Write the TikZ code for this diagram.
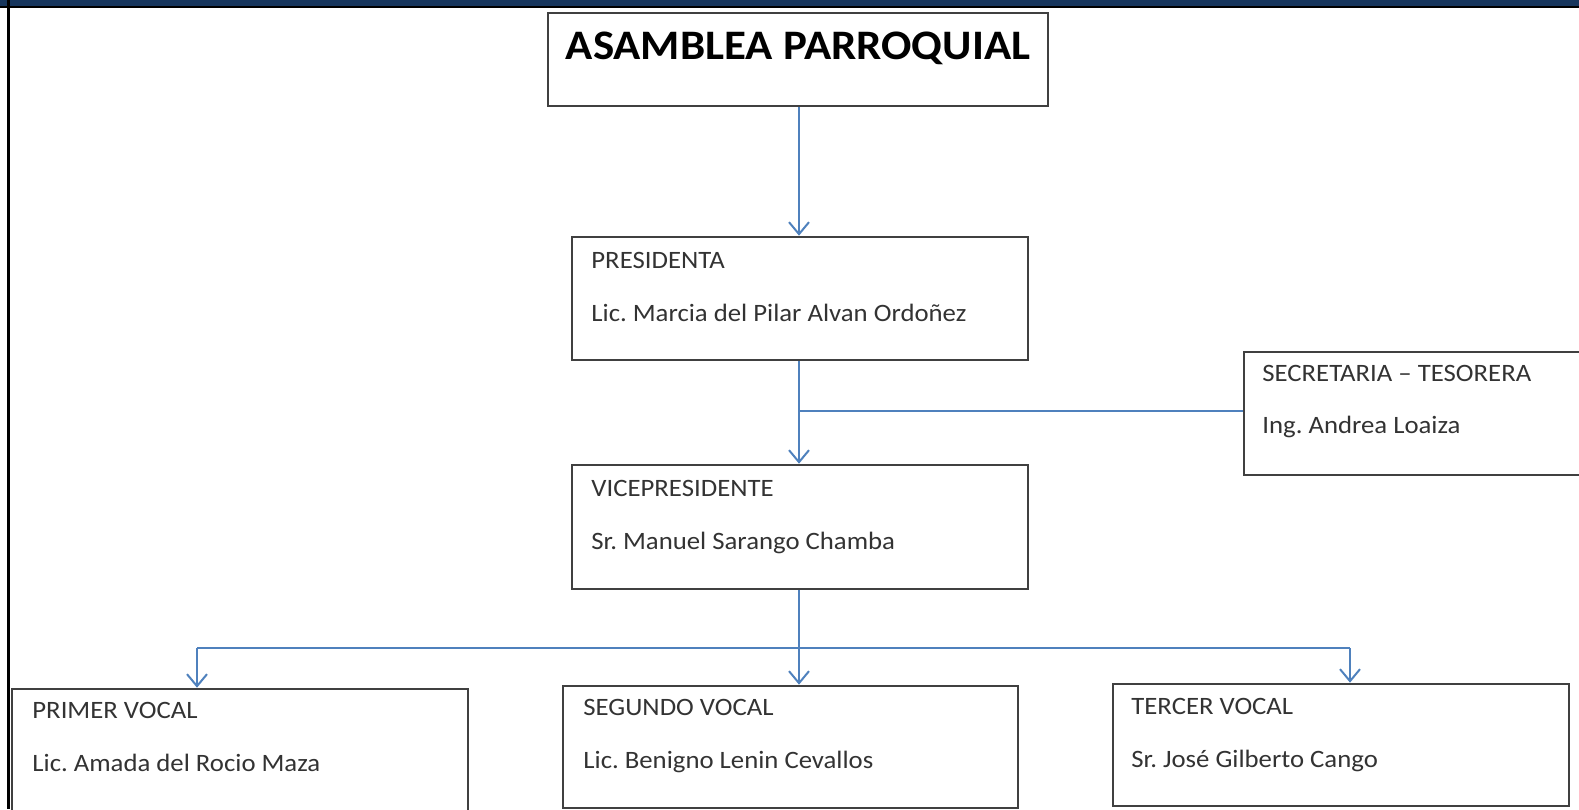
\documentclass[tikz,border=0pt]{standalone}
\usepackage{fontspec}
\setmainfont{Carlito}[FakeStretch=1.07]
\usetikzlibrary{arrows.meta}
\definecolor{navy}{HTML}{17365D}
\definecolor{conn}{HTML}{4F81BD}
\definecolor{frame}{HTML}{404040}
\definecolor{txt}{HTML}{333333}
\tikzset{
  box/.style={draw=frame, line width=1.3pt, fill=white, inner sep=0pt},
  lbl/.style={anchor=base west, inner sep=0pt, text=txt, font=\fontsize{12.5}{14}\selectfont},
  ttl/.style={anchor=base, inner sep=0pt, text=black, font=\bfseries\fontsize{21}{24}\selectfont},
  conline/.style={draw=conn, line width=1pt},
  conarrow/.style={conline, -{Straight Barb[length=6pt,width=10pt,line width=1pt]}}
}
\frenchspacing
\begin{document}
\begin{tikzpicture}[x=0.5pt,y=-0.5pt]
\useasboundingbox (0,0) rectangle (1579,809);
\clip (0,0) rectangle (1579,809);
% frame decorations
\fill[navy] (0,0) rectangle (1579,6);
\fill[black] (0,6) rectangle (1579,8);
\fill[black] (7,0) rectangle (10,809);
% boxes
\node[box, minimum width=250pt, minimum height=46.5pt] (asam) at (798,59.5) {};
\node[ttl] (asamt) at (798,59) {ASAMBLEA PARROQUIAL};
\node[box, minimum width=228pt, minimum height=61.5pt] (pres) at (800,298.5) {};
\node[lbl] (pres1) at (591,268) {PRESIDENTA};
\node[lbl] (pres2) at (591,321) {Lic. Marcia del Pilar Alvan Ordoñez};
\node[box, minimum width=228pt, minimum height=62pt] (vice) at (800,527) {};
\node[lbl] (vice1) at (591,496) {VICEPRESIDENTE};
\node[lbl] (vice2) at (591,549) {Sr. Manuel Sarango Chamba};
\node[box, minimum width=180pt, minimum height=61.5pt] (secr) at (1424,413.5) {};
\node[lbl] (secr1) at (1262,381) {SECRETARIA – TESORERA};
\node[lbl] (secr2) at (1262,433) {Ing. Andrea Loaiza};
\node[box, minimum width=228pt, minimum height=62pt] (prim) at (240,751) {};
\node[lbl] (prim1) at (32,718) {PRIMER VOCAL};
\node[lbl] (prim2) at (32,771) {Lic. Amada del Rocio Maza};
\node[box, minimum width=227.5pt, minimum height=61pt] (segu) at (790.5,747) {};
\node[lbl] (segu1) at (583,715) {SEGUNDO VOCAL};
\node[lbl] (segu2) at (583,768) {Lic. Benigno Lenin Cevallos};
\node[box, minimum width=228pt, minimum height=61pt] (terc) at (1341,745) {};
\node[lbl] (terc1) at (1131,714) {TERCER VOCAL};
\node[lbl] (terc2) at (1131,767) {Sr. José Gilberto Cango};
% connectors
\coordinate (j1) at (799,411);
\coordinate (j2) at (799,648);
\draw[conarrow] (asam.south -| 799,0) -- (pres.north -| 799,0);
\draw[conarrow] (pres.south -| 799,0) -- (vice.north -| 799,0);
\draw[conline] (j1) -- (j1 -| secr.west);
\draw[conline] (vice.south -| 799,0) -- (j2);
\draw[conline] (197,648) -- (1350,648);
\draw[conarrow] (197,648) -- (prim.north -| 197,0);
\draw[conarrow] (j2) -- (segu.north -| 799,0);
\draw[conarrow] (1350,648) -- (terc.north -| 1350,0);
\end{tikzpicture}
\end{document}
